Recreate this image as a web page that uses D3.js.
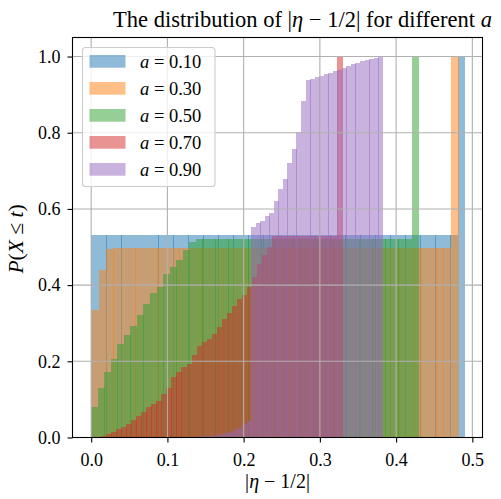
<!DOCTYPE html>
<html><head><meta charset="utf-8">
<script src="https://cdn.jsdelivr.net/npm/d3@7"></script>
<style>
body{margin:0;background:#fff;}
svg{display:block;}
text{font-family:"Liberation Serif", serif; fill:#000;}
</style></head><body>
<svg id="chart" width="501" height="499"></svg>
<script>
// ---------------- data ----------------
const aValues = ["0.10", "0.30", "0.50", "0.70", "0.90"];
const binCount = 50;
const rangeMin = [0, 0, 0, 0, 0.0847];
const rangeMax = [0.4904, 0.4813, 0.4288, 0.3291, 0.3824];

const cdfA010 = [
  0.531,0.531,0.531,0.531,0.531,0.531,0.531,0.531,0.531,0.531,
  0.531,0.531,0.531,0.531,0.531,0.531,0.531,0.531,0.531,0.531,
  0.531,0.531,0.531,0.531,0.531,0.531,0.531,0.531,0.531,0.531,
  0.531,0.531,0.531,0.531,0.531,0.531,0.531,0.531,0.531,0.531,
  0.531,0.531,0.531,0.531,0.531,0.531,0.531,0.531,0.531,1.000];
const cdfA030 = [
  0.336,0.440,0.494,0.497,0.497,0.497,0.497,0.497,0.497,0.497,
  0.497,0.497,0.497,0.497,0.497,0.497,0.497,0.497,0.497,0.497,
  0.497,0.497,0.497,0.497,0.497,0.497,0.497,0.497,0.497,0.497,
  0.497,0.497,0.497,0.497,0.497,0.497,0.497,0.497,0.497,0.497,
  0.497,0.497,0.497,0.497,0.497,0.497,0.497,0.497,0.497,1.000];
const cdfA050 = [
  0.079,0.129,0.172,0.206,0.245,0.268,0.292,0.321,0.350,0.380,
  0.396,0.429,0.447,0.466,0.492,0.512,0.521,0.521,0.521,0.521,
  0.521,0.521,0.521,0.521,0.521,0.521,0.521,0.521,0.521,0.521,
  0.521,0.521,0.521,0.521,0.521,0.521,0.521,0.521,0.521,0.521,
  0.521,0.521,0.521,0.521,0.521,0.521,0.521,0.521,0.521,1.000];
const cdfA070 = [
  0.000,0.000,0.003,0.009,0.014,0.022,0.027,0.036,0.045,0.056,
  0.066,0.079,0.088,0.095,0.114,0.130,0.158,0.172,0.186,0.193,
  0.217,0.241,0.250,0.259,0.271,0.290,0.311,0.326,0.345,0.363,
  0.374,0.396,0.422,0.455,0.480,0.500,0.528,0.528,0.528,0.528,
  0.528,0.528,0.528,0.528,0.528,0.528,0.528,0.528,0.528,1.000];
const cdfA090 = [
  0.000,0.000,0.000,0.000,0.000,0.000,0.000,0.000,0.000,0.000,
  0.003,0.005,0.005,0.007,0.009,0.011,0.014,0.019,0.026,0.035,
  0.044,0.552,0.562,0.569,0.581,0.590,0.621,0.652,0.679,0.720,
  0.757,0.802,0.884,0.939,0.941,0.946,0.949,0.953,0.957,0.963,
  0.965,0.970,0.976,0.981,0.983,0.988,0.991,0.994,0.997,1.000];

const xTicks = [0.0, 0.1, 0.2, 0.3, 0.4, 0.5];
const yTicks = [0.0, 0.2, 0.4, 0.6, 0.8, 1.0];

// ---------------- drawing ----------------
const seriesCdf = [cdfA010, cdfA030, cdfA050, cdfA070, cdfA090];
const colors = ["#1f77b4", "#ff7f0e", "#2ca02c", "#d62728", "#9467bd"];

const svg = d3.select("#chart");
const L = 72.5, R = 482.5, T = 37.5, B = 437.5;

const x = d3.scaleLinear().domain([-0.0245, 0.5149]).range([L, R + 1.2]);
const y = d3.scaleLinear().domain([0, 1.05]).range([B, T]);

svg.append("defs").append("clipPath").attr("id", "clip")
  .append("rect").attr("x", L).attr("y", T).attr("width", R - L).attr("height", B - T);

const bars = svg.append("g").attr("clip-path", "url(#clip)");
seriesCdf.forEach((cdf, s) => {
  const w = (rangeMax[s] - rangeMin[s]) / binCount;
  const data = cdf.map((v, i) => ({x0: rangeMin[s] + i * w, x1: rangeMin[s] + (i + 1) * w, v}));
  bars.append("g").selectAll("rect").data(data).join("rect")
    .attr("x", d => Math.round(x(d.x0)))
    .attr("width", d => Math.round(x(d.x1) + 0.45) - Math.round(x(d.x0)))
    .attr("y", d => Math.round(y(d.v)))
    .attr("height", d => Math.round(y(0)) - Math.round(y(d.v)))
    .attr("fill", colors[s])
    .attr("fill-opacity", 0.5)
    .attr("shape-rendering", "crispEdges");
});

// grid (above bars, as in matplotlib)
const grid = svg.append("g");
grid.selectAll("line.gx").data(xTicks).join("line")
  .attr("x1", d => x(d)).attr("x2", d => x(d)).attr("y1", T).attr("y2", B)
  .attr("stroke", "#b0b0b0").attr("stroke-width", 1.1);
grid.selectAll("line.gy").data(yTicks).join("line")
  .attr("x1", L).attr("x2", R).attr("y1", d => y(d)).attr("y2", d => y(d))
  .attr("stroke", "#b0b0b0").attr("stroke-width", 1.1);

// axes
const xAxis = svg.append("g").attr("transform", `translate(0,${B})`)
  .call(d3.axisBottom(x).tickValues(xTicks).tickFormat(d3.format(".1f")).tickSize(5).tickPadding(10.5).tickSizeOuter(0));
const yAxis = svg.append("g").attr("transform", `translate(${L},0)`)
  .call(d3.axisLeft(y).tickValues(yTicks).tickFormat(d3.format(".1f")).tickSize(5).tickPadding(7).tickSizeOuter(0));
[xAxis, yAxis].forEach(g => {
  g.select(".domain").remove();
  g.selectAll(".tick line").attr("stroke", "#000").attr("stroke-width", 1.1);
  g.selectAll(".tick text").attr("font-family", "Liberation Serif").attr("font-size", 18).attr("fill", "#000");
});

// frame
svg.append("rect").attr("x", L).attr("y", T).attr("width", R - L).attr("height", B - T)
  .attr("fill", "none").attr("stroke", "#000").attr("stroke-width", 1.1);

// legend
const lg = svg.append("g");
lg.append("rect").attr("x", 82.5).attr("y", 47.5).attr("width", 132.5).attr("height", 139)
  .attr("rx", 3).attr("fill", "#fff").attr("fill-opacity", 0.8)
  .attr("stroke", "#cccccc").attr("stroke-width", 1.1);
aValues.forEach((a, i) => {
  lg.append("rect").attr("x", 89.5).attr("y", 55 + 27 * i).attr("width", 36).attr("height", 12.7)
    .attr("fill", colors[i]).attr("fill-opacity", 0.5);
  const t = lg.append("text").attr("x", 140).attr("y", 67.5 + 27 * i).attr("font-size", 18.5);
  t.append("tspan").attr("font-style", "italic").text("a");
  t.append("tspan").text(" = " + a);
});

// title
const title = svg.append("text").attr("x", 113).attr("y", 26.5).attr("font-size", 22.5)
  .attr("textLength", 379).attr("lengthAdjust", "spacing");
title.append("tspan").text("The distribution of |");
title.append("tspan").attr("font-style", "italic").text("η");
title.append("tspan").text(" − 1/2| for different ");
title.append("tspan").attr("font-style", "italic").text("a");

// x label
const xl = svg.append("text").attr("x", 277.5).attr("y", 488).attr("text-anchor", "middle").attr("font-size", 20);
xl.append("tspan").text("|");
xl.append("tspan").attr("font-style", "italic").text("η");
xl.append("tspan").text(" − 1/2|");

// y label
const yl = svg.append("text").attr("transform", "translate(23,239) rotate(-90)").attr("text-anchor", "middle").attr("font-size", 21.5);
yl.append("tspan").attr("font-style", "italic").text("P");
yl.append("tspan").text("(");
yl.append("tspan").attr("font-style", "italic").text("X");
yl.append("tspan").text(" ≤ ");
yl.append("tspan").attr("font-style", "italic").text("t");
yl.append("tspan").text(")");
</script>
</body></html>
